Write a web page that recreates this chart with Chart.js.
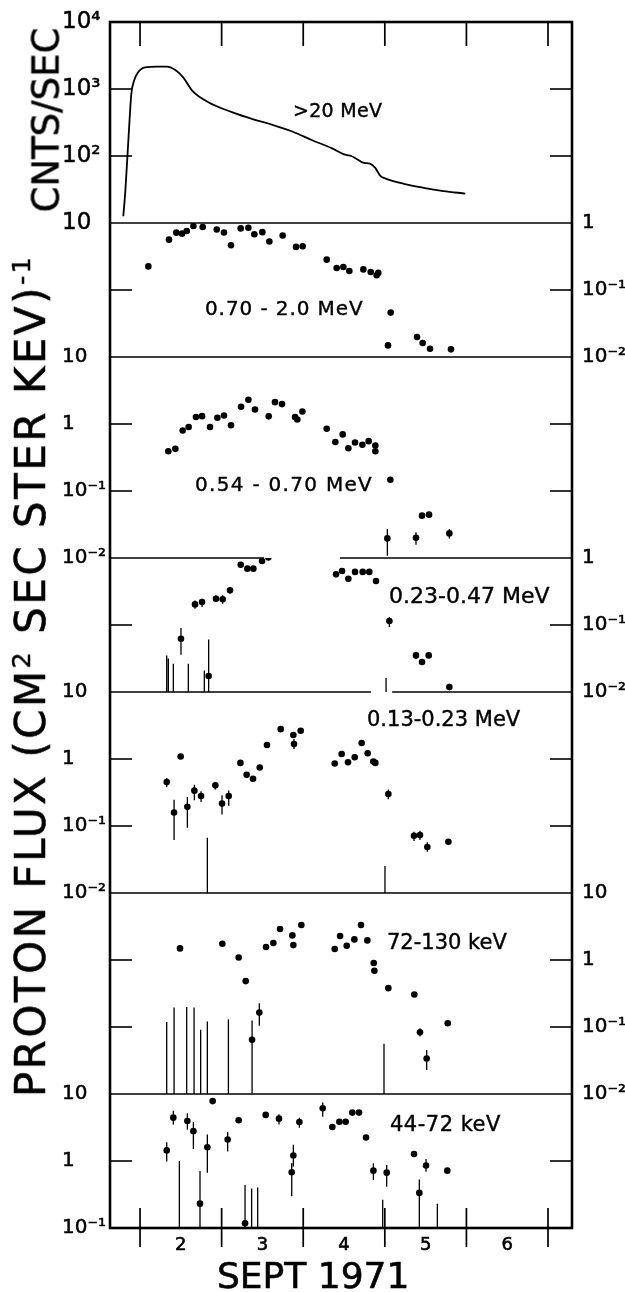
<!DOCTYPE html>
<html>
<head>
<meta charset="utf-8">
<script src="https://cdn.jsdelivr.net/npm/chart.js@4.4.1/dist/chart.umd.min.js"></script>
<style>
  html, body { margin:0; padding:0; background:#fff; }
  #wrap { position:relative; width:625px; height:1292px; overflow:hidden; background:#fff; }
  #c { position:absolute; left:0; top:0; }
  .t { position:absolute; font-family:'DejaVu Sans', sans-serif; color:#000; white-space:nowrap; line-height:1; transform:translateY(-50%); -webkit-text-stroke:0.4px #000; }
  .rot { position:absolute; font-family:'DejaVu Sans', sans-serif; color:#000; white-space:nowrap; line-height:1; transform:translate(-50%,-50%) rotate(-90deg); -webkit-text-stroke:0.5px #000; }
  .sup { font-size:0.6em; position:relative; top:-0.6em; }
</style>
</head>
<body>
<div id="wrap">
  <canvas id="c" width="625" height="1292"></canvas>
  <div class="rot" style="left:46px; top:120px; font-size:37px;">CNTS/SEC</div>
  <div class="rot" style="left:31px; top:676px; font-size:42px; letter-spacing:2.5px;">PROTON FLUX (CM<span class="sup">2</span> SEC STER KEV)<span class="sup">-1</span></div>
  <div class="t" style="left:293px; top:110px; font-size:19px; letter-spacing:0.3px;">&gt;20 MeV</div>
  <div class="t" style="left:205px; top:308px; font-size:20px; letter-spacing:0.9px;">0.70 - 2.0 MeV</div>
  <div class="t" style="left:195px; top:484px; font-size:20px; letter-spacing:1.3px;">0.54 - 0.70 MeV</div>
  <div class="t" style="left:389px; top:596px; font-size:22px;">0.23-0.47 MeV</div>
  <div class="t" style="left:367px; top:719px; font-size:21px;">0.13-0.23 MeV</div>
  <div class="t" style="left:387px; top:942px; font-size:21px;">72-130 keV</div>
  <div class="t" style="left:390px; top:1124px; font-size:21px; letter-spacing:0.5px;">44-72 keV</div>
  <div class="t" style="left:217px; top:1276px; font-size:36px; -webkit-text-stroke:0.6px #000;">SEPT 1971</div>
</div>
<script>
// ---------------- data (time in days of Sept 1971; t=2.0 is start of Sept 2) ----------------
const DAY_TICKS = [2, 3, 4, 5, 6, 7];
const DAY_LABEL_POS = [2.5, 3.5, 4.5, 5.5, 6.5];
const DAY_LABELS = ['2', '3', '4', '5', '6'];
const X_MIN = 1.632, X_MAX = 7.294;

const PANEL_MIN = [10, 0.01, 0.01, 0.01, 0.01, 0.01, 0.1];
const PANEL_MAX = [1e4, 1, 10, 1, 10, 10, 10];
const PANEL_LABEL_SIDE = ['left', 'right', 'left', 'right', 'left', 'right', 'left'];
const SEPARATOR_GAPS = [[], [], [], [[3.52, 4.45]], [[4.83, 5.09]], [], []];

// >20 MeV counting rate
const P1_T = [1.795,1.82,1.859,1.893,1.927,1.976,2.063,2.21,2.331,2.429,2.526,2.648,2.843,3.135,3.379,3.623,3.866,4.11,4.354,4.5,4.539,4.588,4.646,4.744,4.817,4.88,4.948,5.012,5.231,5.475,5.718,5.986];
const P1_V = [12.6,30,188,840,1330,1780,2110,2160,2160,1930,1500,920,630,447,355,292,232,172,130,106,103,100,92,79,77,67,50,46,38.5,33.5,30,27.5];

// 0.70 - 2.0 MeV
const P2_T = [2.102,2.355,2.445,2.515,2.572,2.654,2.768,2.94,3.029,3.115,3.234,3.328,3.401,3.499,3.585,3.748,3.912,3.993,4.288,4.41,4.492,4.565,4.737,4.827,4.9,4.92,5.072,5.039,5.395,5.464,5.554,5.811];
const P2_V = [0.225,0.564,0.718,0.693,0.76,0.90,0.87,0.80,0.72,0.465,0.83,0.85,0.68,0.73,0.53,0.65,0.44,0.45,0.284,0.213,0.22,0.192,0.203,0.186,0.166,0.18,0.046,0.0149,0.0199,0.0162,0.0133,0.013];
const P2_ERR_T = [], P2_ERR_LO = [], P2_ERR_HI = [];

// 0.54 - 0.70 MeV
const P3_T = [2.347,2.433,2.523,2.596,2.686,2.76,2.858,2.948,3.029,3.115,3.238,3.328,3.409,3.577,3.654,3.74,3.9,3.928,3.99,4.288,4.394,4.484,4.553,4.635,4.725,4.802,4.884,4.884,5.068,5.031,5.382,5.456,5.542,5.791];
const P3_V = [0.393,0.426,0.80,0.90,1.27,1.31,0.90,1.24,1.34,0.96,1.81,2.30,1.65,1.30,2.12,1.98,1.27,1.17,1.54,0.85,0.54,0.70,0.435,0.53,0.49,0.555,0.478,0.393,0.147,0.0196,0.0201,0.0429,0.0444,0.0233];
const P3_ERR_T = [5.031,5.382,5.791];
const P3_ERR_LO = [0.0108,0.0158,0.0196];
const P3_ERR_HI = [0.0271,0.0242,0.0271];

// 0.23 - 0.47 MeV
const P4_T = [2.502,2.674,2.76,2.841,2.931,3.013,3.103,3.234,3.315,3.389,3.495,3.573,3.654,3.74,3.9,3.981,4.402,4.476,4.553,4.635,4.729,4.81,4.892,5.015,5.056,5.382,5.456,5.538,5.791];
const P4_V = [0.0625,0.203,0.22,0.0173,0.247,0.242,0.329,0.794,0.693,0.693,0.90,1.02,1.55,1.64,1.51,1.41,0.57,0.64,0.49,0.62,0.62,0.62,0.454,0.0089,0.115,0.0352,0.028,0.0352,0.0119];
const P4_ERR_T  = [2.327,2.347,2.408,2.502,2.592,2.674,2.76,2.788,2.841,2.931,3.013,3.103,5.015,5.056,5.382,5.791];
const P4_ERR_LO = [0.01,0.01,0.01,0.0361,0.01,0.175,0.186,0.01,0.01,0.22,0.208,0.294,0.0066,0.093,0.031,0.0106];
const P4_ERR_HI = [0.0352,0.0315,0.0265,0.0902,0.0265,0.233,0.247,0.021,0.061,0.277,0.277,0.369,0.0162,0.132,0.040,0.0133];

// 0.13 - 0.23 MeV
const P5_T = [2.327,2.417,2.498,2.58,2.666,2.748,2.923,3.005,3.087,3.23,3.307,3.385,3.467,3.556,3.724,3.879,3.887,3.969,4.386,4.471,4.549,4.631,4.716,4.79,4.859,4.884,5.043,5.358,5.431,5.521,5.779];
const P5_V = [0.452,0.159,1.09,0.193,0.337,0.281,0.404,0.216,0.281,0.875,0.58,0.507,0.746,1.62,2.79,2.28,1.67,2.64,0.855,1.19,0.895,1.06,1.73,1.22,0.916,0.875,0.30,0.0716,0.0733,0.0486,0.0583];
const P5_ERR_T  = [2.327,2.417,2.58,2.666,2.748,2.825,2.923,3.005,3.087,3.887,5.002,5.043,5.358,5.431,5.521];
const P5_ERR_LO = [0.381,0.0617,0.094,0.242,0.229,0.01,0.352,0.148,0.2,1.41,0.01,0.251,0.0597,0.062,0.0414];
const P5_ERR_HI = [0.519,0.247,0.271,0.413,0.329,0.0668,0.452,0.287,0.34,1.99,0.0254,0.352,0.082,0.085,0.057];

// 72 - 130 keV
const P6_T = [2.49,3.009,3.209,3.295,3.373,3.462,3.544,3.634,3.716,3.867,3.879,3.977,4.386,4.452,4.533,4.627,4.708,4.786,4.864,4.872,5.043,5.362,5.431,5.513,5.771];
const P6_V = [1.49,1.75,1.09,0.484,0.0643,0.164,1.56,1.79,2.90,2.33,1.67,3.33,1.46,2.28,1.63,2.03,3.33,1.96,0.90,0.69,0.38,0.305,0.0836,0.0338,0.114];
const P6_ERR_T  = [2.327,2.417,2.572,2.662,2.743,2.825,3.083,3.373,3.462,4.99,5.431,5.513];
const P6_ERR_LO = [0.01,0.01,0.01,0.01,0.01,0.01,0.01,0.0102,0.104,0.01,0.072,0.0229];
const P6_ERR_HI = [0.119,0.195,0.198,0.195,0.0906,0.121,0.131,0.125,0.227,0.056,0.096,0.0455];

// 44 - 72 keV
const P7_T = [2.327,2.408,2.58,2.654,2.735,2.825,2.89,3.074,3.209,3.287,3.54,3.703,3.859,3.879,3.953,4.239,4.357,4.443,4.52,4.602,4.684,4.77,4.86,5.023,5.358,5.423,5.505,5.766];
const P7_V = [1.44,4.44,3.95,2.79,0.231,1.60,7.83,2.09,4.05,0.1175,4.88,4.29,0.678,1.21,3.82,6.14,3.21,3.86,3.86,5.28,5.28,2.24,0.718,0.67,1.27,0.334,0.855,0.718];
const P7_ERR_T  = [2.327,2.408,2.482,2.58,2.654,2.735,2.825,3.074,3.287,3.368,3.442,3.703,3.859,3.879,3.953,4.239,4.86,4.974,5.023,5.423,5.505,5.644];
const P7_ERR_LO = [0.98,3.52,0.1,2.96,1.51,0.1,0.67,1.39,0.1,0.1,0.1,3.52,0.298,0.826,3.13,4.59,0.519,0.1,0.412,0.1,0.693,0.1];
const P7_ERR_HI = [1.91,5.6,1.0,5.16,3.82,0.71,2.48,2.70,0.437,0.389,0.403,4.99,0.927,1.75,4.44,7.48,0.927,0.265,0.875,0.531,1.07,0.231];

const POINT_SERIES = [
  [P2_T, P2_V, P2_ERR_T, P2_ERR_LO, P2_ERR_HI],
  [P3_T, P3_V, P3_ERR_T, P3_ERR_LO, P3_ERR_HI],
  [P4_T, P4_V, P4_ERR_T, P4_ERR_LO, P4_ERR_HI],
  [P5_T, P5_V, P5_ERR_T, P5_ERR_LO, P5_ERR_HI],
  [P6_T, P6_V, P6_ERR_T, P6_ERR_LO, P6_ERR_HI],
  [P7_T, P7_V, P7_ERR_T, P7_ERR_LO, P7_ERR_HI]
];

// ---------------- helpers ----------------
const SUP = {'-':'\u207B','0':'\u2070','1':'\u00B9','2':'\u00B2','3':'\u00B3','4':'\u2074'};
function decadeLabel(v) {
  const k = Math.round(Math.log10(v));
  if (k === 0) return '1';
  if (k === 1) return '10';
  return '10' + String(k).split('').map(c => SUP[c]).join('');
}
function decades(mn, mx) {
  const out = [];
  for (let k = Math.round(Math.log10(mn)); k <= Math.round(Math.log10(mx)); k++) out.push(Math.pow(10, k));
  return out;
}

Chart.defaults.font.family = "'DejaVu Sans', sans-serif";
Chart.defaults.color = '#000';

// ---------------- scales ----------------
const scales = {
  x: {
    type: 'linear', position: 'bottom', min: X_MIN, max: X_MAX, bounds: 'data',
    grid: { display: false, drawTicks: false }, border: { display: false },
    ticks: { autoSkip: false, maxRotation: 0, padding: 7, font: { size: 18 }, color: '#000',
      textStrokeColor: '#000', textStrokeWidth: 0.6,
      callback: (v, i) => DAY_LABELS[i] },
    afterBuildTicks: s => { s.ticks = DAY_LABEL_POS.map(v => ({ value: v })); },
    title: { display: false },
    afterFit: s => { s.height = 64; }
  }
};
PANEL_MIN.forEach((mn, i) => {
  const mx = PANEL_MAX[i];
  const fontSize = i === 0 ? 23 : 20;
  const common = {
    type: 'logarithmic', min: mn, max: mx, stackWeight: Math.round(Math.log10(mx / mn)),
    grid: { display: false, drawTicks: false }, border: { display: false },
    afterBuildTicks: s => { s.ticks = decades(mn, mx).map(v => ({ value: v })); }
  };
  scales['L' + i] = Object.assign({}, common, {
    position: 'left', stack: 'leftStack', weight: 20 - i,
    ticks: { display: PANEL_LABEL_SIDE[i] === 'left', autoSkip: false, crossAlign: 'far', padding: 0,
      font: { size: fontSize }, color: '#000', textStrokeColor: '#000', textStrokeWidth: 0.5,
      callback: v => decadeLabel(v) },
    afterFit: s => { s.width = 48; }
  });
  scales['R' + i] = Object.assign({}, common, {
    position: 'right', stack: 'rightStack', weight: i,
    ticks: { display: PANEL_LABEL_SIDE[i] === 'right', autoSkip: false, padding: 10,
      font: { size: fontSize }, color: '#000', textStrokeColor: '#000', textStrokeWidth: 0.5,
      callback: v => decadeLabel(v) },
    afterFit: s => { s.width = 53; }
  });
});

// ---------------- datasets ----------------
const datasets = [{
  type: 'line', label: '>20 MeV', xAxisID: 'x', yAxisID: 'L0',
  data: P1_T.map((t, i) => ({ x: t, y: P1_V[i] })),
  borderColor: '#000', borderWidth: 1.8, pointRadius: 0, fill: false,
  cubicInterpolationMode: 'monotone'
}];
POINT_SERIES.forEach((ser, k) => {
  const [T, V, ET, ELO, EHI] = ser;
  const axis = 'L' + (k + 1);
  const errData = [];
  ET.forEach((t, j) => { errData.push({ x: t, y: ELO[j] }, { x: t, y: EHI[j] }, { x: t, y: null }); });
  datasets.push({
    type: 'line', xAxisID: 'x', yAxisID: axis, data: errData,
    borderColor: '#000', borderWidth: 1.3, pointRadius: 0, spanGaps: false, fill: false, tension: 0
  });
  datasets.push({
    type: 'scatter', xAxisID: 'x', yAxisID: axis,
    data: T.map((t, j) => ({ x: t, y: V[j] })),
    pointRadius: 3.3, pointBackgroundColor: '#000', pointBorderWidth: 0, showLine: false
  });
});

// ---------------- frame / inward tick marks ----------------
const framePlugin = {
  id: 'frame',
  afterDatasetsDraw(chart) {
    const { ctx, chartArea: a, scales: sc } = chart;
    const line = (x1, y1, x2, y2) => { ctx.beginPath(); ctx.moveTo(x1, y1); ctx.lineTo(x2, y2); ctx.stroke(); };
    ctx.save();
    ctx.strokeStyle = '#000';
    ctx.lineWidth = 1.6;
    PANEL_MIN.forEach((mn, i) => {
      const s = sc['L' + i];
      decades(mn, PANEL_MAX[i]).forEach(v => {
        if (v === mn || v === PANEL_MAX[i]) return;
        const y = s.getPixelForValue(v);
        line(a.left, y, a.left + 22, y);
        line(a.right - 22, y, a.right, y);
      });
    });
    ctx.lineWidth = 1.7;
    for (let i = 1; i < PANEL_MIN.length; i++) {
      const y = sc['L' + i].getPixelForValue(PANEL_MAX[i]);
      let x0 = a.left;
      SEPARATOR_GAPS[i].forEach(([g0, g1]) => {
        const p0 = sc.x.getPixelForValue(g0), p1 = sc.x.getPixelForValue(g1);
        line(x0, y, p0, y); x0 = p1;
      });
      line(x0, y, a.right, y);
    }
    ctx.lineWidth = 1.7;
    DAY_TICKS.forEach(d => {
      const x = sc.x.getPixelForValue(d);
      line(x, a.top, x, a.top + 24);
      line(x, a.bottom - 20, x, a.bottom + 19);
    });
    ctx.lineWidth = 2.6;
    ctx.strokeRect(a.left, a.top, a.right - a.left, a.bottom - a.top);
    ctx.restore();
  }
};

new Chart(document.getElementById('c'), {
  type: 'scatter',
  data: { datasets },
  options: {
    responsive: false, devicePixelRatio: 1, animation: false, events: [],
    layout: { padding: { left: 62, top: 18, right: 0, bottom: 0 } },
    plugins: { legend: { display: false }, tooltip: { enabled: false }, title: { display: false } },
    scales
  },
  plugins: [framePlugin]
});
</script>
</body>
</html>
